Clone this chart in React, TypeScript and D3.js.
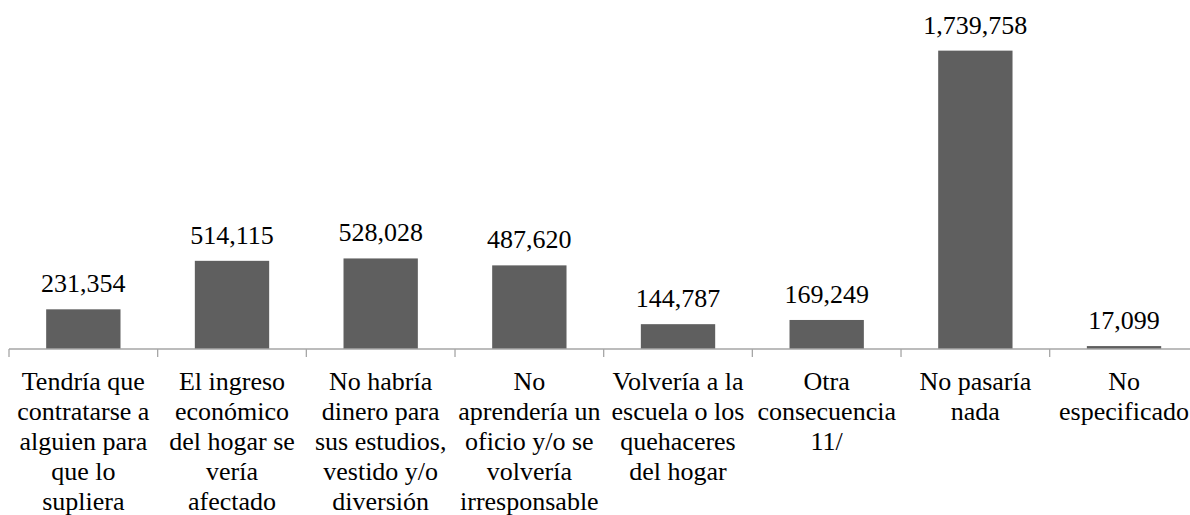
import React from "react";
import { scaleBand, scaleLinear, format } from "d3";

// categories (wrapped as in the source chart) and values
const categories = [
  ["Tendría que", "contratarse a", "alguien para", "que lo", "supliera"],
  ["El ingreso", "económico", "del hogar se", "vería", "afectado"],
  ["No habría", "dinero para", "sus estudios,", "vestido y/o", "diversión"],
  ["No", "aprendería un", "oficio y/o se", "volvería", "irresponsable"],
  ["Volvería a la", "escuela o los", "quehaceres", "del hogar"],
  ["Otra", "consecuencia", "11/"],
  ["No pasaría", "nada"],
  ["No", "especificado"],
];
const values = [231354, 514115, 528028, 487620, 144787, 169249, 1739758, 17099];

const W = 1190;
const H = 515;
const axisY = 349;
const fontSize = 26;
const lineH = 30;
const serif = "Tinos, 'Times New Roman', Times, 'Noto Serif', 'Liberation Serif', 'DejaVu Serif', serif";

function App() {
  const x = scaleBand<number>()
    .domain(values.map((v, i) => i))
    .range([9, 9 + 8 * 148.67])
    .paddingInner(0.5)
    .paddingOuter(0.25);

  const y = scaleLinear().domain([0, 2000000]).range([axisY, 6]);

  const fmt = format(",");
  const step = x.step();
  const start = (x(0) as number) - step * 0.25;
  const txt = { fontFamily: serif, fontSize: fontSize + "px" };

  return (
    <svg
      width={W}
      height={H}
      style={{ position: "absolute", left: 0, top: 0, background: "#fff" }}
    >
      {values.map((v, i) => (
        <g key={i}>
          <rect
            x={x(i)}
            y={y(v)}
            width={x.bandwidth()}
            height={axisY - y(v)}
            fill="#5f5f5f"
          />
          <text
            x={(x(i) as number) + x.bandwidth() / 2}
            y={y(v) - 17}
            textAnchor="middle"
            style={txt}
            fill="#000"
          >
            {fmt(v)}
          </text>
        </g>
      ))}

      {/* category axis */}
      <line x1={start} x2={W} y1={axisY} y2={axisY} stroke="#a6a6a6" strokeWidth={1.3} />
      {values.map((v, i) => (
        <line
          key={"t" + i}
          x1={start + i * step}
          x2={start + i * step}
          y1={axisY}
          y2={axisY + 8}
          stroke="#a6a6a6"
          strokeWidth={1.3}
        />
      ))}

      {categories.map((lines, i) => (
        <text key={"c" + i} textAnchor="middle" style={txt} fill="#000">
          {lines.map((l, j) => (
            <tspan key={j} x={(x(i) as number) + x.bandwidth() / 2} y={axisY + 41 + j * lineH}>
              {l}
            </tspan>
          ))}
        </text>
      ))}
    </svg>
  );
}

export default App;
